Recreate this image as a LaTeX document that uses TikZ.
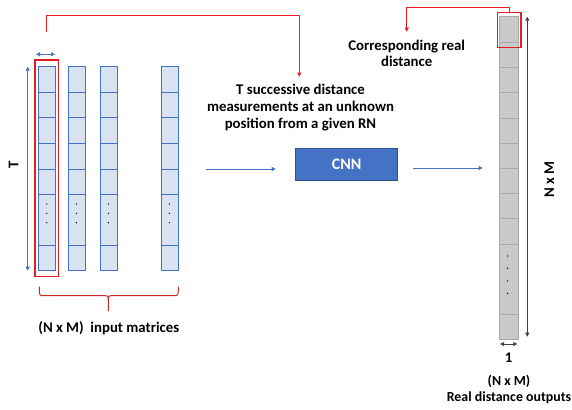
\documentclass[tikz,border=0pt]{standalone}
\usepackage{fontspec}
\setmainfont{Carlito}
\usetikzlibrary{arrows.meta}
\definecolor{cellblue}{HTML}{DAE3F3}
\definecolor{edgeblue}{HTML}{4472C4}
\definecolor{cnnblue}{HTML}{4472C4}
\definecolor{cnnedge}{HTML}{2F528F}
\definecolor{cellgray}{HTML}{C9C9C9}
\definecolor{edgegray}{HTML}{A9A9A9}
\definecolor{linkred}{HTML}{EE1C24}
\definecolor{framered}{HTML}{E41E1E}
\definecolor{bracered}{HTML}{C82828}
\definecolor{darkline}{HTML}{404040}
\begin{document}
\begin{tikzpicture}[x=1pt,y=-1pt,
  lbl/.style={font=\fontsize{14.8}{16.7}\selectfont\bfseries, align=center, inner sep=0pt},
  bluecol/.style={fill=cellblue, draw=edgeblue, line width=0.9pt},
  graycol/.style={fill=cellgray, draw=edgegray, line width=0.9pt},
  redlink/.style={draw=linkred, line width=1pt, -{Triangle[length=4pt,width=4pt]}},
  redframe/.style={draw=framered, line width=1.5pt, fill=none, inner sep=0pt},
  bluearrow/.style={draw=edgeblue, line width=0.9pt, -{Triangle[length=4pt,width=4pt]}},
  bluedbl/.style={draw=edgeblue, line width=0.9pt, {Triangle[length=4pt,width=4pt]}-{Triangle[length=4pt,width=4pt]}},
  darkdbl/.style={draw=darkline, line width=0.9pt, {Triangle[length=4pt,width=4pt]}-{Triangle[length=4pt,width=4pt]}},
  cnnbox/.style={fill=cnnblue, draw=cnnedge, line width=0.8pt, text=white, minimum width=102pt, minimum height=32.4pt, font=\fontsize{16}{18}\selectfont\bfseries}
]
\useasboundingbox (0,0) rectangle (572,409);

% ---- input columns
\foreach \xa/\nm in {38.7/c1, 68.3/c2, 100.3/c3, 161.3/c4}{
  \path[bluecol] (\xa,66.7) rectangle ++(16.7,204);
  \foreach \yy in {92,117.3,143.3,169,194.3,245.7}
    \draw[edgeblue, line width=0.9pt] (\xa,\yy) -- ++(16.7,0);
  \foreach \yy in {204,213.3,222.7}
    \fill (\xa+8.1,\yy) circle (0.7pt);
  \node[inner sep=0pt, minimum width=16.7pt, minimum height=204pt] (\nm) at (\xa+8.35,168.7) {};
}

% red frame around first column
\node[redframe, minimum width=23.3pt, minimum height=216.7pt] (frame1) at (46.65,168.35) {};
% width arrow
\coordinate (wa) at (36,54.3);
\coordinate (wb) at (55,54.3);
\draw[bluedbl] (wa) -- (wb);
% T arrow
\coordinate (ta) at (27.7,66.7);
\coordinate (tb) at (27.7,270.7);
\draw[bluedbl] (ta) -- (tb);
\node[lbl, rotate=90] (tlab) at (13.5,164.5) {T};

% brace
\draw[draw=bracered, line width=1pt]
  (39.3,286.7) .. controls (39.3,295.7) .. (44,295.7) -- (104,295.7)
  .. controls (108.3,295.7) .. (108.3,301) -- (108.3,311);
\draw[draw=bracered, line width=1pt]
  (178.3,286.7) .. controls (178.3,295.7) .. (173.6,295.7) -- (112.6,295.7)
  .. controls (108.3,295.7) .. (108.3,301);
\node[lbl] (inlab) at (108.8,328.3) {(N x M)\ \ input matrices};

% measurement text
\node[lbl] (meas) at (300.5,107.6) {T successive distance\\measurements at an unknown\\position from a given RN};
\coordinate (r1s) at (46.7,32.3);
\coordinate (r1e) at (299.3,76.7);
\draw[redlink] (r1s) -- ++(0,-16.3) -| (r1e);

% CNN
\node[cnnbox] (cnn) at (346.7,164.5) {CNN};
\coordinate (ia) at (206,169);
\coordinate (ib) at (275.7,169);
\draw[bluearrow] (ia) -- (ib);
\coordinate (oa) at (413.3,168);
\coordinate (ob) at (482.7,168);
\draw[bluearrow] (oa) -- (ob);

% output column
\path[graycol] (499.3,16.7) rectangle (518.3,339.3);
\foreach \yy in {42.3,67.3,92.7,118,143.3,168.3,193.3,218.3,244.3,314}
  \draw[edgegray, line width=0.9pt] (499.3,\yy) -- (518.3,\yy);
\foreach \yy in {256,268.3,281,293.3}
  \fill (507.6,\yy) circle (0.7pt);
\node[inner sep=0pt, minimum width=19pt, minimum height=322.6pt] (outcol) at (508.8,178) {};
\node[lbl] (corr) at (406.7,53.3) {Corresponding real\\distance};
\coordinate (r2e) at (406.7,31.7);
\draw[draw=framered, line width=1.5pt] (497.7,12.7) rectangle (521,47.3);
\coordinate (frame2top) at (509.35,12.7);
\draw[redlink] (frame2top) -- ++(0,-5.4) -| (r2e);

% N x M arrow
\coordinate (na) at (527.3,16.7);
\coordinate (nb) at (527.3,336.7);
\draw[darkdbl] (na) -- (nb);
\node[lbl, rotate=90] (nmlab) at (549.3,179.3) {N x M};

% width 1 arrow
\coordinate (ua) at (500,344);
\coordinate (ub) at (517.3,344);
\draw[darkdbl] (ua) -- (ub);
\node[lbl] (one) at (508.7,357.7) {1};
\node[lbl, font=\fontsize{13.9}{15.6}\selectfont\bfseries] (outlab) at (509,389.5) {(N x M)\\Real distance outputs};
\end{tikzpicture}
\end{document}
